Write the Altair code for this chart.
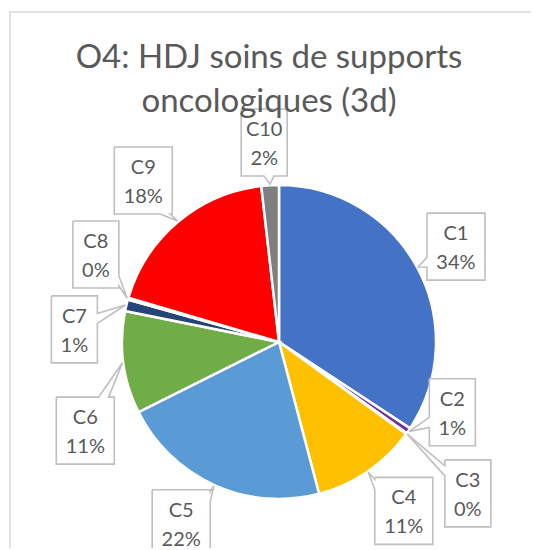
import math
import altair as alt
import pandas as pd

# ---- data ----
categories = ["C1", "C2", "C3", "C4", "C5", "C6", "C7", "C8", "C9", "C10"]
values = [34.2, 0.6, 0.1, 10.9, 21.7, 10.5, 1.2, 0.2, 18.6, 1.8]
pct_labels = ["34%", "1%", "0%", "11%", "22%", "11%", "1%", "0%", "18%", "2%"]
colors = ["#4472C4", "#7030A0", "#A5A5A5", "#FFC000", "#5B9BD5",
          "#70AD47", "#264478", "#9E480E", "#FF0000", "#7F7F7F"]
title_lines = ["O4: HDJ soins de supports", "oncologiques (3d)"]

# ---- layout (label callout placement, like Excel's callouts) ----
label_angle_shift = [0, -12.4, 3, -2, 4, -17, -10, 9.5, 0, -1]   # degrees
label_dist = [201, 187, 242, 210, 206, 213, 205, 203, 211, 200]   # px from centre

W, H = 523, 540
CX, CY, R = 271, 334, 157
FONT = "Lato"
TXT = "#595959"
BOX_STROKE = "#BFBFBF"

total = sum(values)
pie_df = pd.DataFrame({"cat": categories, "val": values,
                       "idx": list(range(len(values)))})

# callout boxes, computed from slice mid-angles
rows, outline = [], []
cum = 0.0
for i, (c, v) in enumerate(zip(categories, values)):
    mid = (cum + v / 2) / total * 2 * math.pi
    cum += v
    a = mid + math.radians(label_angle_shift[i])
    bx = CX + label_dist[i] * math.sin(a)
    by = CY - label_dist[i] * math.cos(a)
    w = 46 if len(pct_labels[i]) == 2 else 58
    h = 67
    tx = CX + (R + 1) * math.sin(mid)
    ty = CY - (R + 1) * math.cos(mid)
    rows.append({"cat": c, "txt": c + "\n" + pct_labels[i],
                 "x": bx - w / 2, "x2": bx + w / 2,
                 "y": by - h / 2, "y2": by + h / 2, "cx": bx, "cy": by - 12.5})
    # outline polygon with pointer
    l, r_, t, b = bx - w / 2, bx + w / 2, by - h / 2, by + h / 2
    dx, dy = tx - bx, ty - by
    half = 5
    if abs(dx) / (w / 2) > abs(dy) / (h / 2):
        side = "R" if dx > 0 else "L"
        py = by + dy * (w / 2) / abs(dx)
        py = min(max(py, t + half + 2), b - half - 2)
    else:
        side = "B" if dy > 0 else "T"
        px = bx + dx * (h / 2) / abs(dy)
        px = min(max(px, l + half + 2), r_ - half - 2)
    pts = [(l, t)]
    if side == "T":
        pts += [(px - half, t), (tx, ty), (px + half, t)]
    pts.append((r_, t))
    if side == "R":
        pts += [(r_, py - half), (tx, ty), (r_, py + half)]
    pts.append((r_, b))
    if side == "B":
        pts += [(px + half, b), (tx, ty), (px - half, b)]
    pts.append((l, b))
    if side == "L":
        pts += [(l, py + half), (tx, ty), (l, py - half)]
    pts.append((l, t))
    for k, (X, Y) in enumerate(pts):
        outline.append({"cat": c, "k": k, "X": X, "Y": Y})

box_df = pd.DataFrame(rows)
out_df = pd.DataFrame(outline)

frame = alt.Chart(pd.DataFrame({"a": [0]})).mark_rect(
    fill=None, stroke="#D9D9D9", strokeWidth=1.5
).encode(x=alt.value(2), x2=alt.value(W + 40), y=alt.value(4), y2=alt.value(H + 40))

pie = alt.Chart(pie_df).mark_arc(outerRadius=R, stroke="white", strokeWidth=2.5).encode(
    theta=alt.Theta("val:Q", stack=True),
    order=alt.Order("idx:Q"),
    color=alt.Color("cat:N", scale=alt.Scale(domain=categories, range=colors), legend=None),
    x=alt.value(CX), y=alt.value(CY),
)

boxes = alt.Chart(box_df).mark_rect(fill="white", strokeWidth=0).encode(
    x=alt.X("x:Q", scale=None), x2="x2:Q",
    y=alt.Y("y:Q", scale=None), y2="y2:Q",
)

lines = alt.Chart(out_df).mark_line(color=BOX_STROKE, strokeWidth=1.6, strokeJoin="miter").encode(
    x=alt.X("X:Q", scale=None), y=alt.Y("Y:Q", scale=None),
    detail="cat:N", order=alt.Order("k:Q"),
)

texts = alt.Chart(box_df).mark_text(
    font=FONT, fontSize=20, color=TXT, lineBreak="\n", lineHeight=29,
    align="center", baseline="middle"
).encode(x=alt.X("cx:Q", scale=None), y=alt.Y("cy:Q", scale=None), text="txt:N")

title_df = pd.DataFrame({"t": title_lines, "yy": [60, 104]})
title = alt.Chart(title_df).mark_text(
    font=FONT, fontSize=33, color=TXT, align="center", baseline="alphabetic"
).encode(x=alt.value(261), y=alt.Y("yy:Q", scale=None), text="t:N")

chart = alt.layer(frame, pie, boxes, lines, texts, title).properties(
    width=W, height=H, padding=0,
    autosize=alt.AutoSizeParams(type="none"),
).configure_view(stroke=None)

chart.save("out.html", embed_options={"renderer": "svg", "actions": False})
